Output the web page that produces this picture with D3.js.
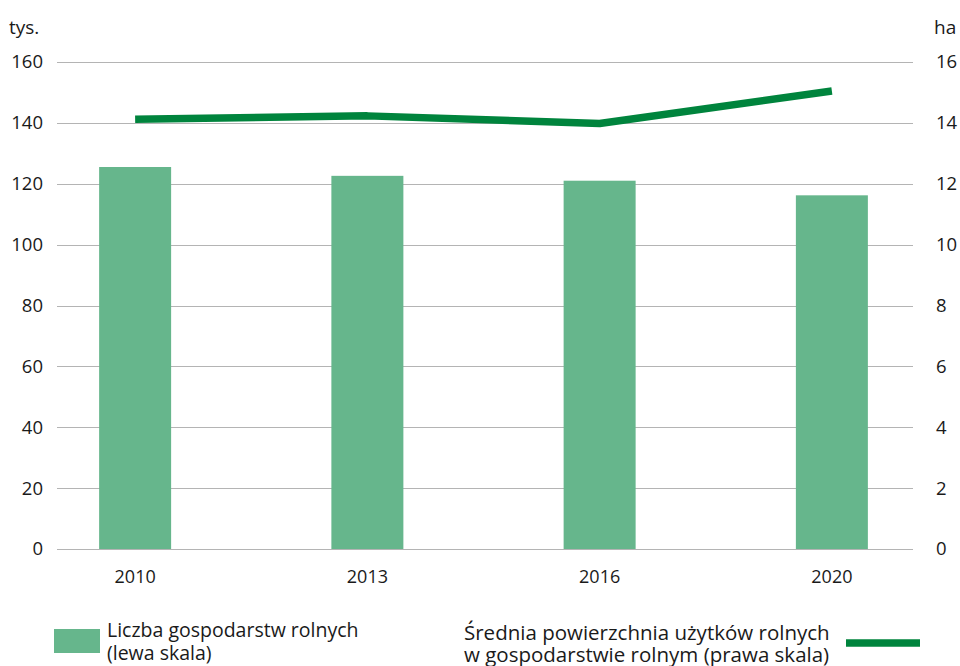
<!DOCTYPE html>
<html>
<head>
<meta charset="utf-8">
<script src="https://cdn.jsdelivr.net/npm/d3@7"></script>
<style>
  body { margin: 0; background: #fff; }
  text { font-family: "Open Sans", "Noto Sans", sans-serif; fill: #1a1a1a; }
</style>
</head>
<body>
<div id="chart"></div>
<script>
"use strict";

var years = ["2010", "2013", "2016", "2020"];
var farmsCount = [125.5, 122.6, 121.0, 116.2];   // tys.
var avgArea = [14.12, 14.23, 13.98, 15.05];       // ha
var leftTicks = [0, 20, 40, 60, 80, 100, 120, 140, 160];
var rightTicks = [0, 2, 4, 6, 8, 10, 12, 14, 16];

var W = 960, H = 666;
var plot = { left: 57, right: 913, top: 62, bottom: 549 };

var BAR_COLOR = "#66b68c";
var LINE_COLOR = "#00843d";
var GRID_COLOR = "#b4b4b4";
var FONT = "'Open Sans', 'Noto Sans', sans-serif";

var svg = d3.select("#chart")
    .append("svg")
    .attr("width", W)
    .attr("height", H);

var x = d3.scaleBand()
    .domain(years)
    .range([55, 912])
    .paddingInner(0.69)
    .paddingOuter(0.19);

var yLeft = d3.scaleLinear().domain([0, 160]).range([plot.bottom, plot.top]);
var yRight = d3.scaleLinear().domain([0, 16]).range([plot.bottom, plot.top]);

// gridlines
svg.append("g")
    .selectAll("line")
    .data(leftTicks)
    .enter()
    .append("line")
    .attr("x1", plot.left)
    .attr("x2", plot.right)
    .attr("y1", function(d) { return Math.round(yLeft(d)) + 0.5; })
    .attr("y2", function(d) { return Math.round(yLeft(d)) + 0.5; })
    .attr("stroke", GRID_COLOR)
    .attr("stroke-width", 1);

// left axis labels
var leftAxis = d3.axisLeft(yLeft).tickValues(leftTicks).tickSize(0).tickPadding(0);
svg.append("g")
    .attr("transform", "translate(43,0)")
    .call(leftAxis)
    .call(function(g) { g.select(".domain").remove(); })
    .selectAll("text")
    .attr("font-size", 18.5)
    .attr("font-family", FONT)
    .attr("fill", "#1a1a1a");

// right axis labels
var rightAxis = d3.axisRight(yRight).tickValues(rightTicks).tickSize(0).tickPadding(0);
svg.append("g")
    .attr("transform", "translate(936,0)")
    .call(rightAxis)
    .call(function(g) { g.select(".domain").remove(); })
    .selectAll("text")
    .attr("font-size", 18.5)
    .attr("font-family", FONT)
    .attr("fill", "#1a1a1a");

svg.append("text")
    .attr("x", 9)
    .attr("y", 34)
    .attr("font-size", 19)
    .text("tys.");

svg.append("text")
    .attr("x", 934)
    .attr("y", 34)
    .attr("font-size", 19)
    .text("ha");

// bars
svg.append("g")
    .selectAll("rect")
    .data(farmsCount)
    .enter()
    .append("rect")
    .attr("x", function(d, i) { return x(years[i]); })
    .attr("width", x.bandwidth())
    .attr("y", function(d) { return yLeft(d); })
    .attr("height", function(d) { return yLeft(0) - yLeft(d); })
    .attr("fill", BAR_COLOR);

// x axis labels
var xAxis = d3.axisBottom(x).tickSize(0).tickPadding(0);
svg.append("g")
    .attr("transform", "translate(0,570)")
    .call(xAxis)
    .call(function(g) { g.select(".domain").remove(); })
    .selectAll("text")
    .attr("font-size", 18)
    .attr("font-family", FONT)
    .attr("fill", "#1a1a1a");

// line
var line = d3.line()
    .x(function(d, i) { return x(years[i]) + x.bandwidth() / 2; })
    .y(function(d) { return yRight(d); });

svg.append("path")
    .datum(avgArea)
    .attr("d", line)
    .attr("fill", "none")
    .attr("stroke", LINE_COLOR)
    .attr("stroke-width", 7.5)
    .attr("stroke-linejoin", "round")
    .attr("stroke-linecap", "butt");

// legend
var legend = svg.append("g");

legend.append("rect")
    .attr("x", 54)
    .attr("y", 629)
    .attr("width", 46)
    .attr("height", 24)
    .attr("fill", BAR_COLOR);

var leg1 = legend.append("text")
    .attr("x", 107)
    .attr("y", 637)
    .attr("font-size", 19.5);
leg1.append("tspan").attr("x", 107).text("Liczba gospodarstw rolnych");
leg1.append("tspan").attr("x", 107).attr("dy", 23).text("(lewa skala)");

var leg2 = legend.append("text")
    .attr("x", 464)
    .attr("y", 640)
    .attr("font-size", 20.5);
leg2.append("tspan").attr("x", 464).text("Średnia powierzchnia użytków rolnych");
leg2.append("tspan").attr("x", 464).attr("dy", 22).text("w gospodarstwie rolnym (prawa skala)");

legend.append("line")
    .attr("x1", 846)
    .attr("x2", 920)
    .attr("y1", 643)
    .attr("y2", 643)
    .attr("stroke", LINE_COLOR)
    .attr("stroke-width", 7.5);
</script>
</body>
</html>
